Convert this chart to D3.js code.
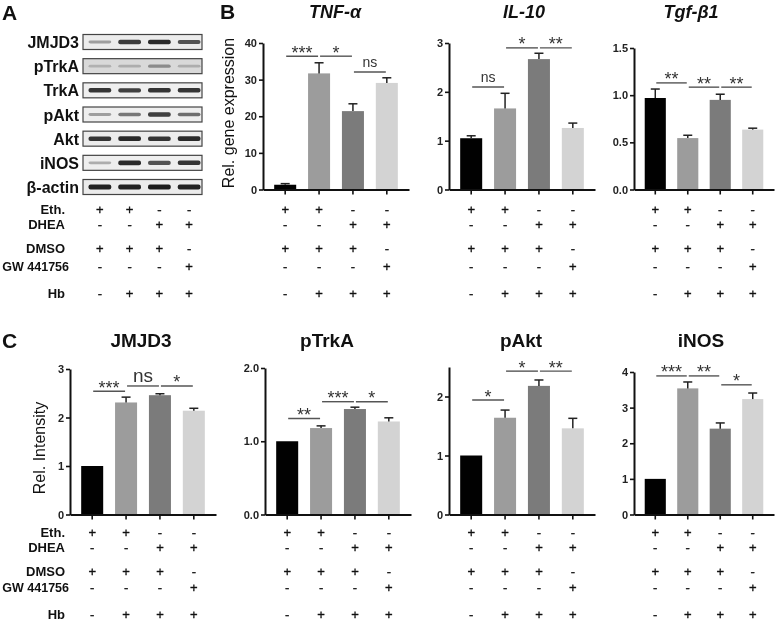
<!DOCTYPE html>
<html><head><meta charset="utf-8">
<script src="https://cdn.jsdelivr.net/npm/d3@7"></script>
<style>body{margin:0;background:#fff} text{font-family:"Liberation Sans",Arial,sans-serif} #root{opacity:0.999}</style>
</head><body><svg id="c" width="778" height="622"><rect width="778" height="622" fill="#fff"/><g id="root"></g></svg>
<script>
// ---------- data ----------
const groups = ["G1","G2","G3","G4"];
const barColors = ["#000000","#9c9c9c","#7b7b7b","#d3d3d3"];
const condLabels = ["Eth.","DHEA","DMSO","GW 441756","Hb"];
const ethRow  = ["+","+","-","-"];
const dheaRow = ["-","-","+","+"];
const dmsoRow = ["+","+","+","-"];
const gwRow   = ["-","-","-","+"];
const hbRow   = ["-","+","+","+"];
const condRows = [ethRow, dheaRow, dmsoRow, gwRow, hbRow];

// western blot (band darkness 0..1 per lane)
const blotRows = ["JMJD3","pTrkA","TrkA","pAkt","Akt","iNOS","β-actin"];
const jmjd3Bands = [0.3,0.82,0.9,0.7];
const ptrkaBands = [0.2,0.22,0.4,0.22];
const trkaBands  = [0.85,0.8,0.85,0.85];
const paktBands  = [0.3,0.5,0.8,0.55];
const aktBands   = [0.85,0.9,0.85,0.9];
const inosBands  = [0.22,0.9,0.7,0.86];
const actinBands = [0.95,0.95,0.97,0.95];
const blotBands = [jmjd3Bands, ptrkaBands, trkaBands, paktBands, aktBands, inosBands, actinBands];
const blotBg = ["#ececec","#d9d9d9","#efefef","#eeeeee","#ececec","#eeeeee","#ececec"];

// panel B: gene expression
const tnfMean = [1.3,31.7,21.4,29.1], tnfErr = [0.3,2.9,2.0,1.4], tnfTicks = [0,10,20,30,40];
const tnfSig = [[0,1,36.4,"***"],[1,2,36.4,"*"],[2,3,32.1,"ns"]];
const il10Mean = [1.05,1.66,2.67,1.26], il10Err = [0.05,0.31,0.12,0.1], il10Ticks = [0,1,2,3];
const il10Sig = [[0,1,2.1,"ns"],[1,2,2.9,"*"],[2,3,2.9,"**"]];
const tgfMean = [0.97,0.545,0.95,0.635], tgfErr = [0.095,0.03,0.06,0.015], tgfTicks = [0,0.5,1.0,1.5];
const tgfSig = [[0,1,1.13,"**"],[1,2,1.085,"**"],[2,3,1.085,"**"]];

// panel C: relative intensity
const jmjd3Mean = [1.0,2.31,2.46,2.14], jmjd3Err = [0,0.11,0.03,0.05], jmjd3Ticks = [0,1,2,3];
const jmjd3Sig = [[0,1,2.54,"***"],[1,2,2.65,"ns"],[2,3,2.65,"*"]];
const ptrkaMean = [1.0,1.18,1.44,1.27], ptrkaErr = [0,0.03,0.025,0.05], ptrkaTicks = [0,1,2];
const ptrkaSig = [[0,1,1.31,"**"],[1,2,1.54,"***"],[2,3,1.54,"*"]];
const paktMean = [1.0,1.64,2.18,1.46], paktErr = [0,0.13,0.1,0.17], paktTicks = [0,1,2];
const paktSig = [[0,1,1.94,"*"],[1,2,2.43,"*"],[2,3,2.43,"**"]];
const inosMean = [1.0,3.54,2.41,3.24], inosErr = [0,0.18,0.16,0.17], inosTicks = [0,1,2,3,4];
const inosSig = [[0,1,3.89,"***"],[1,2,3.89,"**"],[2,3,3.64,"*"]];

// ---------- drawing ----------
const svg = d3.select("#root");
const defs = d3.select("#c").append("defs");
defs.append("filter").attr("id","blur").attr("x","-20%").attr("y","-100%").attr("width","140%").attr("height","300%")
  .append("feGaussianBlur").attr("stdDeviation","0.7");

// panel letters
[["A",2,20],["B",220,19],["C",2,348]].forEach(([t,x,y])=>{
  svg.append("text").attr("x",x).attr("y",y).attr("font-size",21).attr("font-weight","bold").attr("fill","#111").text(t);
});

// ---- Panel A: blot ----
const laneX = d3.scaleBand().domain(groups).range([85,204]);
const rowY = d3.scalePoint().domain(blotRows).range([42,187]);
const gA = svg.append("g");
blotRows.forEach((r,ri)=>{
  const cy = rowY(r);
  gA.append("rect").attr("x",83).attr("y",cy-7.5).attr("width",119).attr("height",15)
    .attr("fill",blotBg[ri]).attr("stroke","#444").attr("stroke-width",1.2);
  gA.append("text").attr("x",79).attr("y",cy+6).attr("text-anchor","end")
    .attr("font-size",16).attr("font-weight","bold").attr("fill","#111").text(r);
  gA.selectAll(null).data(blotBands[ri]).enter().append("rect")
    .attr("x",(d,i)=>laneX(groups[i])+3.5).attr("width",laneX.bandwidth()-7)
    .attr("y",d=>cy-(1.0+1.5*d)).attr("height",d=>2.0+3.0*d).attr("rx",2)
    .attr("fill",d=>{const v=Math.round(215-190*d);return `rgb(${v},${v},${v})`;})
    .attr("filter","url(#blur)");
});

function drawSigns(g, xc, rowsY){
  condRows.forEach((row,ri)=>{
    g.selectAll(null).data(row).enter().append("text")
      .attr("x",(d,i)=>xc(i)).attr("y",rowsY[ri]+4.5).attr("text-anchor","middle")
      .attr("font-size",13).attr("fill","#111").attr("stroke","#111").attr("stroke-width",0.35).text(d=>d);
  });
}
function drawCondLabels(g, rowsY){
  condLabels.forEach((lab,ri)=>{
    const gw = lab==="GW 441756";
    g.append("text").attr("x", gw?69:65).attr("y",rowsY[ri]+4.5)
      .attr("text-anchor","end").attr("font-size",gw?12.5:13).attr("font-weight","bold").attr("fill","#111").text(lab);
  });
}
const rowsTop = [209.5,224.5,248,266,293];
const rowsBot = [532,547,571,587,614];
drawSigns(gA, i=>laneX(groups[i])+laneX.bandwidth()/2, rowsTop);
drawCondLabels(gA, rowsTop);
drawCondLabels(svg.append("g"), rowsBot);

// ---- bar panels ----
const panels = [
  {title:"TNF-α", italic:true, mean:tnfMean, err:tnfErr, ticks:tnfTicks, dom:[0,40], fmt:"d", sig:tnfSig, x0:263, x1:409, yTop:43, yZero:189.5, tx:335, ty:18, rows:rowsTop},
  {title:"IL-10", italic:true, mean:il10Mean, err:il10Err, ticks:il10Ticks, dom:[0,3], fmt:"d", sig:il10Sig, x0:449, x1:595, yTop:43, yZero:189.5, tx:524, ty:18, rows:rowsTop},
  {title:"Tgf-β1", italic:true, mean:tgfMean, err:tgfErr, ticks:tgfTicks, dom:[0,1.5], fmt:".1f", sig:tgfSig, x0:634, x1:774, yTop:48, yZero:189.5, tx:691, ty:18, rows:rowsTop},
  {title:"JMJD3", italic:false, mean:jmjd3Mean, err:jmjd3Err, ticks:jmjd3Ticks, dom:[0,3], fmt:"d", sig:jmjd3Sig, x0:70, x1:216, yTop:369, yZero:514.5, tx:141, ty:347, rows:rowsBot, nsBig:true},
  {title:"pTrkA", italic:false, mean:ptrkaMean, err:ptrkaErr, ticks:ptrkaTicks, dom:[0,2], fmt:".1f", sig:ptrkaSig, x0:265, x1:411, yTop:368, yZero:514.5, tx:327, ty:347, rows:rowsBot},
  {title:"pAkt", italic:false, mean:paktMean, err:paktErr, ticks:paktTicks, dom:[0,2.5], fmt:"d", sig:paktSig, x0:449, x1:595, yTop:367, yZero:514.5, tx:521, ty:347, rows:rowsBot},
  {title:"iNOS", italic:false, mean:inosMean, err:inosErr, ticks:inosTicks, dom:[0,4], fmt:"d", sig:inosSig, x0:634, x1:774, yTop:372, yZero:514.5, tx:701, ty:347, rows:rowsBot}
];

panels.forEach(p=>{
  const g = svg.append("g");
  const x = d3.scaleBand().domain(groups).range([p.x0,p.x1]).paddingInner(0.35).paddingOuter(0.33);
  const y = d3.scaleLinear().domain(p.dom).range([p.yZero,p.yTop]);
  const cx = i=>x(groups[i])+x.bandwidth()/2;

  g.append("text").attr("x",p.tx).attr("y",p.ty).attr("text-anchor","middle")
    .attr("font-size",p.italic?18:19).attr("font-weight","bold").attr("font-style",p.italic?"italic":"normal")
    .attr("fill","#111").text(p.title);

  g.selectAll(null).data(p.mean).enter().append("rect")
    .attr("x",(d,i)=>x(groups[i])).attr("width",x.bandwidth())
    .attr("y",d=>y(d)).attr("height",d=>p.yZero-y(d))
    .attr("fill",(d,i)=>barColors[i]);

  p.mean.forEach((m,i)=>{
    const e = p.err[i];
    if(e<=0) return;
    g.append("line").attr("x1",cx(i)).attr("x2",cx(i)).attr("y1",y(m)).attr("y2",y(m+e))
      .attr("stroke","#222").attr("stroke-width",1.5);
    g.append("line").attr("x1",cx(i)-4.5).attr("x2",cx(i)+4.5).attr("y1",y(m+e)).attr("y2",y(m+e))
      .attr("stroke","#222").attr("stroke-width",1.5);
  });

  const ya = g.append("g").attr("transform",`translate(${p.x0},0)`)
    .call(d3.axisLeft(y).tickValues(p.ticks).tickSize(4).tickSizeOuter(0).tickPadding(2).tickFormat(d3.format(p.fmt)));
  const xa = g.append("g").attr("transform",`translate(0,${p.yZero})`)
    .call(d3.axisBottom(x).tickSize(5).tickSizeOuter(0).tickFormat(""));
  [ya,xa].forEach(a=>{
    a.select(".domain").attr("stroke","#111").attr("stroke-width",2);
    a.selectAll(".tick line").attr("stroke","#111").attr("stroke-width",1.6);
    a.selectAll(".tick text").attr("font-size",11).attr("font-weight","bold").attr("fill","#222")
      .attr("font-family",'"Liberation Sans",Arial,sans-serif');
  });

  p.sig.forEach(([i,j,v,lab])=>{
    const yy = y(v);
    g.append("line").attr("x1",cx(i)+1).attr("x2",cx(j)-1).attr("y1",yy).attr("y2",yy)
      .attr("stroke","#555").attr("stroke-width",1.4);
    const isNs = lab==="ns";
    g.append("text").attr("x",(cx(i)+cx(j))/2).attr("y",isNs?(p.nsBig?yy-4:yy-5):yy+2.5)
      .attr("text-anchor","middle").attr("font-size",isNs?(p.nsBig?19:14):18).attr("fill","#333").text(lab);
  });

  drawSigns(g, cx, p.rows);
});

svg.append("text").attr("transform","translate(234,113) rotate(-90)").attr("text-anchor","middle")
  .attr("font-size",16).attr("fill","#111").text("Rel. gene expression");
svg.append("text").attr("transform","translate(45,448) rotate(-90)").attr("text-anchor","middle")
  .attr("font-size",16).attr("fill","#111").text("Rel. Intensity");
</script></body></html>
